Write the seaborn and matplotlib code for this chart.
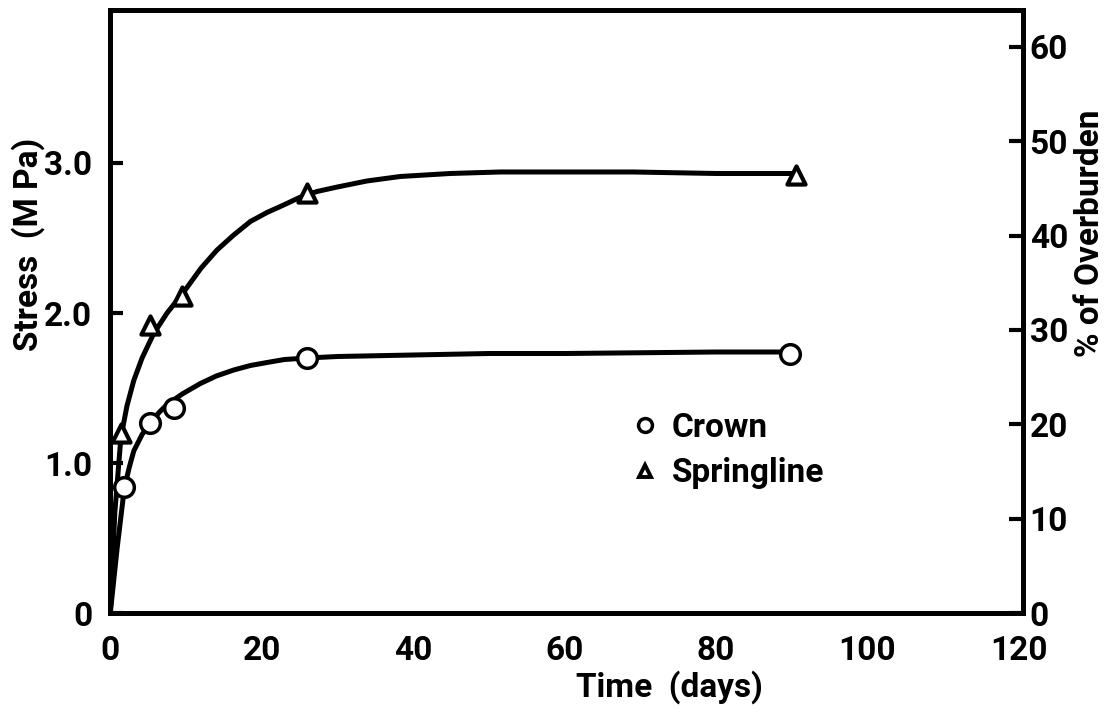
import numpy as np
import pandas as pd
import seaborn as sns
import matplotlib.pyplot as plt
from matplotlib.lines import Line2D

# measured points (days, MPa)
crown_days = [1.85, 5.3, 8.45, 26.0, 89.8]
crown_stress = [0.84, 1.27, 1.37, 1.70, 1.73]
spring_days = [1.4, 5.3, 9.5, 26.0, 90.5]
spring_stress = [1.20, 1.92, 2.11, 2.80, 2.92]

# hand drawn curves
crown_curve_days = [0, 0.9, 1.85, 2.5, 3.1, 4.2, 5.3, 6.5, 7.5, 9.5, 11.9, 14.0,
                    16.3, 18.5, 20.7, 23.0, 26.0, 30.0, 40.0, 50.0, 60.0, 70.0, 80.0, 89.8]
crown_curve_stress = [0, 0.43, 0.83, 0.97, 1.08, 1.19, 1.27, 1.34, 1.39, 1.46, 1.53, 1.58,
                      1.62, 1.65, 1.67, 1.69, 1.70, 1.71, 1.72, 1.73, 1.73, 1.735, 1.74, 1.74]
spring_curve_days = [0, 0.6, 1.4, 2.2, 3.1, 4.2, 5.7, 7.5, 9.7, 12.0, 14.1, 16.3, 18.5,
                     20.7, 22.9, 25.0, 27.3, 30.0, 33.9, 38.3, 44.9, 51.5, 60.0, 69.1, 80.0, 90.5]
spring_curve_stress = [0, 0.67, 1.17, 1.38, 1.55, 1.70, 1.86, 2.00, 2.14, 2.30, 2.42, 2.52, 2.61,
                       2.67, 2.72, 2.77, 2.81, 2.84, 2.88, 2.91, 2.93, 2.94, 2.94, 2.94, 2.93, 2.93]

x_ticks = [0, 20, 40, 60, 80, 100, 120]
y_ticks = [0, 1.0, 2.0, 3.0]
y_tick_labels = ["0", "1.0", "2.0", "3.0"]
pct_ticks = [0, 10, 20, 30, 40, 50, 60]

points = pd.DataFrame({
    "days": crown_days + spring_days,
    "stress": crown_stress + spring_stress,
    "location": ["Crown"] * len(crown_days) + ["Springline"] * len(spring_days),
})

sns.set_theme(style="white")
plt.rcParams["font.family"] = ["Roboto", "DejaVu Sans"]
plt.rcParams["font.weight"] = "bold"
for k in ["text.color", "axes.labelcolor", "xtick.color", "ytick.color", "axes.edgecolor"]:
    plt.rcParams[k] = "black"

fig = plt.figure(figsize=(11.14, 7.12), dpi=100)
ax = fig.add_axes([0.099, 0.139, 0.819, 0.847])

lw = 3.6
sns.lineplot(x=crown_curve_days, y=crown_curve_stress, ax=ax, color="black",
             linewidth=lw, sort=False, estimator=None)
sns.lineplot(x=spring_curve_days, y=spring_curve_stress, ax=ax, color="black",
             linewidth=lw, sort=False, estimator=None)
sns.scatterplot(data=points[points.location == "Crown"], x="days", y="stress", ax=ax,
                marker="o", s=200, facecolor="white", edgecolor="black", linewidth=2.5,
                zorder=5, legend=False)
sns.scatterplot(data=points[points.location == "Springline"], x="days", y="stress", ax=ax,
                marker="^", s=170, facecolor="white", edgecolor="black", linewidth=3.0,
                zorder=5, legend=False)

ax.set_xlim(0, 120.5)
ax.set_ylim(0, 4.02)
ax.set_xticks(x_ticks)
ax.set_yticks(y_ticks)
ax.set_yticklabels(y_tick_labels)

fs = 24
ax.tick_params(axis="x", direction="in", length=9, width=3, pad=16, labelsize=fs)
ax.tick_params(axis="y", direction="in", length=9, width=3, pad=13, labelsize=fs)
for s in ax.spines.values():
    s.set_linewidth(3.6)
    s.set_color("black")

ax.set_xlabel("Time  (days)", fontsize=fs, fontweight="bold")
ax.xaxis.set_label_coords(0.613, -0.094)
ax.set_ylabel("Stress  (M Pa)", fontsize=fs, fontweight="bold")
ax.yaxis.set_label_coords(-0.072, 0.612)

ax2 = ax.twinx()
ax2.set_ylim(0, 63.9)
ax2.set_yticks(pct_ticks)
ax2.tick_params(axis="y", direction="in", length=10, width=3, pad=5, labelsize=fs)
ax2.spines["right"].set_linewidth(3.6)
ax2.spines["right"].set_color("black")
ax2.set_ylabel("% of Overburden", fontsize=fs, fontweight="bold", rotation=90)
ax2.yaxis.set_label_coords(1.056, 0.63)
ax2.grid(False)
ax.grid(False)

handles = [
    Line2D([], [], linestyle="none", marker="o", markersize=10, markerfacecolor="white",
           markeredgecolor="black", markeredgewidth=2.5, label="Crown"),
    Line2D([], [], linestyle="none", marker="^", markersize=9, markerfacecolor="white",
           markeredgecolor="black", markeredgewidth=2.8, label="Springline"),
]
ax.legend(handles=handles, loc="upper left", bbox_to_anchor=(0.535, 0.383), frameon=False,
          fontsize=24, handletextpad=0.3, labelspacing=0.4, handlelength=1.0)

fig.savefig("out.png", dpi=100)
